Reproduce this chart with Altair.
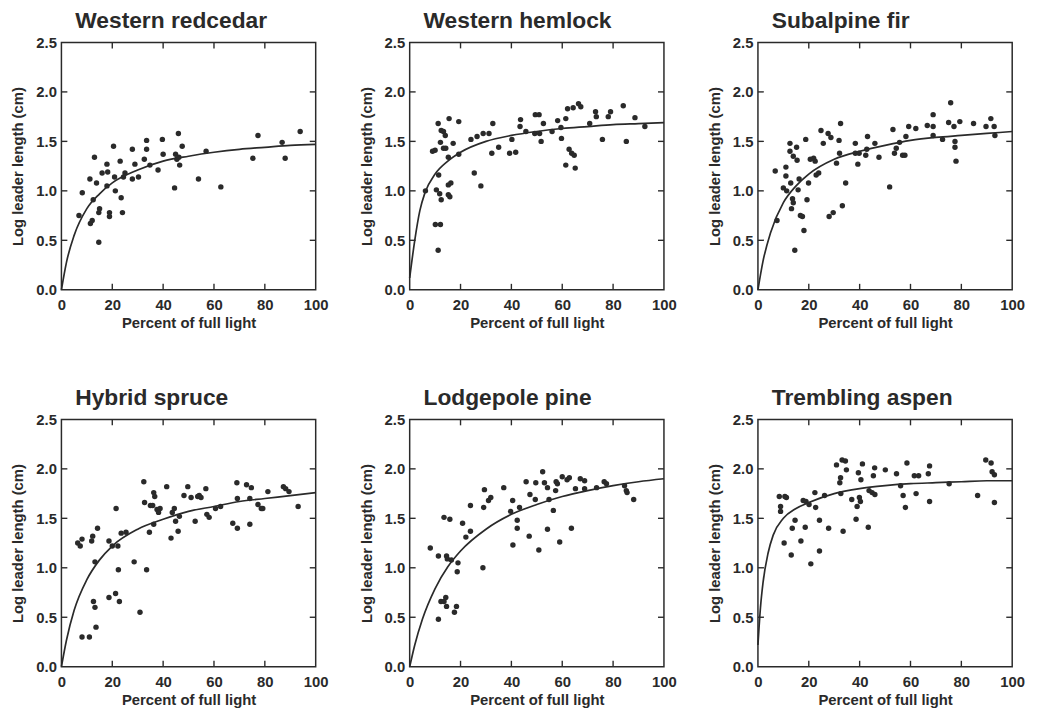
import altair as alt
import pandas as pd

FONT = "Liberation Sans"
INK = "#2a2a2a"
W, H = 257, 250

# ---- axis tick / label values ----
X_LABELS = [0, 20, 40, 60, 80, 100]
Y_LABELS = [0.0, 0.5, 1.0, 1.5, 2.0, 2.5]
X_TICKS = [20, 40, 60, 80]
Y_TICKS = [0.5, 1.0, 1.5, 2.0]

TITLES = ["Western redcedar", "Western hemlock", "Subalpine fir",
          "Hybrid spruce", "Lodgepole pine", "Trembling aspen"]

# ---- observed points (percent of full light, log leader length) ----
REDCEDAR = [(6.9, 0.75), (8.2, 0.98), (11.2, 1.12), (13.0, 1.34), (11.4, 0.67), (12.1, 0.70),
            (12.5, 0.91), (13.8, 1.08), (14.7, 0.48), (14.7, 0.78), (15.0, 0.82), (16.0, 1.18),
            (17.9, 1.27), (18.2, 1.19), (17.9, 1.05), (18.9, 0.78), (18.9, 0.74), (20.5, 1.45),
            (20.9, 1.14), (21.2, 1.00), (23.1, 1.30), (23.5, 0.93), (24.0, 0.78), (24.4, 1.14),
            (25.0, 1.18), (27.9, 1.42), (27.9, 1.12), (28.9, 1.27), (30.3, 1.14), (32.6, 1.32),
            (33.5, 1.51), (33.5, 1.42), (34.8, 1.26), (38.0, 1.21), (39.7, 1.52), (40.0, 1.37),
            (44.5, 1.03), (44.9, 1.37), (45.4, 1.32), (46.0, 1.58), (46.2, 1.34), (46.5, 1.26),
            (47.5, 1.45), (53.9, 1.12), (56.9, 1.40), (62.7, 1.04), (75.3, 1.33), (77.3, 1.56),
            (86.8, 1.49), (88.0, 1.33), (93.9, 1.60)]

HEMLOCK = [(6.2, 1.00), (9.0, 1.40), (10.0, 1.41), (11.2, 1.68), (10.5, 1.01), (10.1, 0.66),
           (12.1, 0.66), (11.2, 0.40), (11.4, 1.16), (11.8, 0.97), (12.4, 0.91), (12.1, 1.49),
           (12.4, 1.61), (13.3, 1.60), (13.3, 1.43), (14.0, 1.56), (14.2, 1.43), (15.2, 1.34),
           (15.2, 1.06), (15.2, 0.96), (15.8, 0.94), (16.2, 1.08), (15.5, 1.73), (17.1, 1.48),
           (19.3, 1.70), (19.3, 1.37), (24.1, 1.52), (25.4, 1.18), (26.5, 1.55), (28.0, 1.05),
           (28.9, 1.58), (31.2, 1.58), (32.3, 1.38), (32.7, 1.68), (35.0, 1.44), (39.3, 1.38),
           (40.2, 1.52), (41.7, 1.39), (43.4, 1.65), (43.6, 1.72), (45.7, 1.60), (49.2, 1.58),
           (49.4, 1.77), (50.9, 1.77), (51.1, 1.58), (51.7, 1.50), (52.6, 1.68), (56.0, 1.60),
           (58.2, 1.71), (59.5, 1.64), (59.7, 1.53), (61.4, 1.73), (61.4, 1.26), (62.1, 1.83),
           (62.7, 1.42), (63.7, 1.38), (64.3, 1.84), (64.7, 1.36), (65.1, 1.23), (66.4, 1.88),
           (67.3, 1.85), (70.8, 1.68), (73.1, 1.80), (73.4, 1.75), (75.8, 1.52), (78.1, 1.75),
           (79.0, 1.80), (84.0, 1.86), (85.2, 1.50), (88.6, 1.74), (92.5, 1.65)]

SUBALPINE = [(6.8, 1.20), (7.5, 0.70), (10.0, 1.03), (11.0, 1.24), (11.0, 1.15), (11.3, 1.00),
             (12.6, 1.48), (12.6, 1.40), (12.9, 1.08), (13.2, 0.82), (13.6, 0.92), (13.9, 0.88),
             (14.5, 0.40), (13.9, 1.35), (15.2, 1.44), (15.4, 1.31), (15.8, 1.01), (16.2, 1.12),
             (16.7, 0.75), (17.5, 0.74), (18.1, 0.60), (18.8, 1.52), (19.3, 0.91), (19.9, 1.08),
             (20.6, 1.32), (21.9, 1.33), (22.5, 1.30), (22.9, 1.16), (23.9, 1.18), (24.8, 1.61),
             (25.7, 1.48), (27.6, 1.58), (28.0, 0.74), (28.7, 1.54), (29.6, 0.78), (30.9, 1.28),
             (31.9, 1.51), (32.1, 1.38), (32.5, 1.68), (33.2, 0.85), (34.5, 1.08), (38.3, 1.48),
             (38.3, 1.38), (39.3, 1.27), (39.8, 1.38), (42.4, 1.36), (42.8, 1.42), (43.1, 1.55),
             (46.0, 1.48), (47.6, 1.34), (51.8, 1.04), (53.1, 1.62), (53.7, 1.38), (54.4, 1.43),
             (55.7, 1.49), (56.9, 1.36), (57.8, 1.36), (58.2, 1.55), (59.3, 1.65), (62.1, 1.63),
             (66.6, 1.66), (68.9, 1.77), (68.9, 1.65), (68.9, 1.56), (72.6, 1.52), (75.0, 1.69),
             (75.8, 1.89), (77.1, 1.65), (77.5, 1.50), (77.5, 1.44), (77.9, 1.30), (79.4, 1.70),
             (84.8, 1.68), (89.7, 1.65), (91.6, 1.73), (92.9, 1.65), (93.2, 1.56)]

SPRUCE = [(6.4, 1.25), (7.4, 1.22), (8.1, 1.29), (8.1, 0.30), (11.0, 0.30), (11.9, 1.27),
          (12.3, 1.32), (12.6, 0.66), (13.2, 0.60), (13.2, 1.06), (13.6, 0.40), (14.2, 1.40),
          (18.7, 1.27), (18.7, 0.70), (20.0, 1.22), (21.3, 0.74), (21.5, 1.60), (22.2, 1.22),
          (22.4, 0.98), (22.8, 0.66), (23.5, 1.35), (25.4, 1.36), (28.6, 1.06), (30.9, 0.55),
          (32.4, 1.87), (32.7, 1.66), (33.5, 0.98), (34.6, 1.36), (35.0, 1.63), (35.9, 1.63),
          (36.3, 1.76), (36.7, 1.72), (36.3, 1.44), (37.6, 1.59), (38.2, 1.56), (38.8, 1.60),
          (41.4, 1.82), (43.1, 1.30), (43.6, 1.56), (44.4, 1.60), (44.9, 1.47), (45.9, 1.37),
          (46.4, 1.52), (48.2, 1.73), (49.7, 1.82), (51.0, 1.71), (52.6, 1.47), (53.6, 1.72),
          (54.2, 1.73), (54.9, 1.71), (56.8, 1.80), (57.2, 1.54), (58.1, 1.51), (60.6, 1.60),
          (62.6, 1.62), (67.4, 1.45), (69.0, 1.86), (69.2, 1.70), (69.2, 1.40), (72.8, 1.84),
          (74.1, 1.70), (74.1, 1.44), (74.7, 1.81), (77.3, 1.64), (78.6, 1.60), (79.2, 1.60),
          (81.2, 1.77), (87.3, 1.82), (88.2, 1.80), (89.5, 1.77), (93.1, 1.62)]

LODGEPOLE = [(8.1, 1.20), (11.3, 1.12), (11.3, 0.48), (13.5, 1.51), (14.5, 1.12), (14.8, 1.09),
             (15.8, 1.49), (16.4, 1.08), (12.3, 0.66), (13.5, 0.66), (14.2, 0.70), (14.5, 0.61),
             (17.6, 0.55), (18.4, 0.61), (18.7, 0.96), (19.0, 1.05), (20.8, 1.45), (22.1, 1.31),
             (23.9, 1.63), (23.9, 1.37), (28.8, 1.00), (29.1, 1.61), (29.4, 1.79), (31.0, 1.68),
             (31.9, 1.71), (37.0, 1.81), (39.7, 1.57), (40.5, 1.68), (40.6, 1.23), (42.3, 1.40),
             (42.3, 1.48), (43.2, 1.61), (45.8, 1.87), (47.0, 1.32), (47.3, 1.74), (49.4, 1.69),
             (49.6, 1.86), (50.8, 1.18), (52.3, 1.97), (53.0, 1.86), (54.2, 1.81), (54.2, 1.39),
             (54.8, 1.69), (56.5, 1.58), (57.4, 1.78), (57.6, 1.87), (58.1, 1.85), (59.0, 1.26),
             (60.0, 1.92), (61.9, 1.89), (62.8, 1.91), (63.6, 1.40), (65.2, 1.80), (67.1, 1.90),
             (68.8, 1.88), (68.8, 1.80), (73.5, 1.81), (76.5, 1.87), (77.4, 1.85), (84.5, 1.83),
             (85.2, 1.78), (85.5, 1.76), (88.1, 1.69)]

ASPEN = [(8.4, 1.72), (8.9, 1.62), (8.9, 1.57), (10.6, 1.72), (11.2, 1.71), (10.3, 1.25),
         (13.1, 1.13), (13.5, 1.40), (14.6, 1.48), (16.9, 1.27), (17.8, 1.68), (18.6, 1.41),
         (18.9, 1.67), (20.1, 1.64), (20.8, 1.04), (22.4, 1.76), (22.7, 1.61), (24.2, 1.48),
         (24.2, 1.17), (26.2, 1.73), (27.8, 1.40), (30.9, 2.04), (32.2, 1.86), (32.5, 1.91),
         (32.6, 1.75), (33.5, 1.37), (33.1, 2.09), (34.4, 2.08), (34.8, 1.99), (36.9, 1.69),
         (38.6, 1.49), (39.0, 1.62), (39.5, 1.96), (39.9, 1.71), (40.3, 1.67), (40.5, 1.89),
         (41.1, 2.05), (43.4, 1.41), (43.7, 1.78), (44.9, 1.76), (45.4, 1.93), (45.9, 2.01),
         (46.0, 1.74), (50.1, 1.99), (54.5, 1.95), (56.1, 1.83), (57.1, 1.73), (58.0, 1.61),
         (58.6, 2.06), (61.5, 1.93), (62.2, 1.75), (63.2, 1.93), (67.0, 1.95), (67.5, 2.03),
         (67.5, 1.67), (75.2, 1.85), (86.4, 1.73), (89.6, 2.09), (91.7, 2.06), (92.1, 1.97),
         (93.0, 1.94), (93.0, 1.66)]

# ---- fitted curves ----
REDCEDAR_CURVE = [(0, 0.0), (2, 0.28), (5, 0.55), (10, 0.82), (15, 0.97), (20, 1.08), (30, 1.21),
                  (40, 1.30), (50, 1.35), (60, 1.39), (70, 1.42), (80, 1.44), (90, 1.46), (100, 1.47)]
HEMLOCK_CURVE = [(0, 0.12), (2, 0.50), (4, 0.80), (6, 0.98), (10, 1.17), (15, 1.30), (20, 1.39),
                 (30, 1.50), (40, 1.56), (50, 1.60), (60, 1.63), (70, 1.65), (80, 1.67), (90, 1.68),
                 (100, 1.69)]
SUBALPINE_CURVE = [(0, 0.0), (2, 0.29), (5, 0.58), (10, 0.88), (15, 1.05), (20, 1.17), (30, 1.32),
                   (40, 1.40), (50, 1.46), (60, 1.51), (70, 1.54), (80, 1.56), (90, 1.58), (100, 1.60)]
SPRUCE_CURVE = [(0, 0.0), (2, 0.27), (5, 0.57), (10, 0.88), (15, 1.08), (20, 1.22), (30, 1.39),
                (40, 1.49), (50, 1.57), (60, 1.62), (70, 1.67), (80, 1.70), (90, 1.73), (100, 1.76)]
LODGEPOLE_CURVE = [(0, 0.0), (2, 0.22), (5, 0.48), (10, 0.79), (15, 1.01), (20, 1.17), (30, 1.39),
                   (40, 1.54), (50, 1.64), (60, 1.72), (70, 1.78), (80, 1.83), (90, 1.87), (100, 1.90)]
ASPEN_CURVE = [(0, 0.22), (1, 0.60), (2, 0.85), (4, 1.15), (6, 1.33), (10, 1.50), (15, 1.60),
               (20, 1.66), (30, 1.75), (40, 1.80), (50, 1.83), (60, 1.85), (70, 1.86), (80, 1.87),
               (90, 1.88), (100, 1.88)]

POINTS = [REDCEDAR, HEMLOCK, SUBALPINE, SPRUCE, LODGEPOLE, ASPEN]
CURVES = [REDCEDAR_CURVE, HEMLOCK_CURVE, SUBALPINE_CURVE, SPRUCE_CURVE, LODGEPOLE_CURVE, ASPEN_CURVE]

TICK = 6


def panel(title, pts, curve):
    pdf = pd.DataFrame(pts, columns=["x", "y"])
    cdf = pd.DataFrame(curve, columns=["x", "y"])
    xt = pd.DataFrame({"x": X_TICKS})
    yt = pd.DataFrame({"y": Y_TICKS})
    xs = alt.Scale(domain=[0, 100], nice=False, zero=False)
    ys = alt.Scale(domain=[0, 2.5], nice=False, zero=False)
    xaxis = alt.Axis(values=X_LABELS, title="Percent of full light",
                     labelPadding=8, titlePadding=3)
    yaxis = alt.Axis(values=Y_LABELS, format=".1f", title="Log leader length (cm)",
                     labelPadding=5, titlePadding=10)
    X = alt.X("x:Q", scale=xs, axis=xaxis)
    Y = alt.Y("y:Q", scale=ys, axis=yaxis)

    points = alt.Chart(pdf).mark_circle(size=30, color=INK, opacity=1).encode(x=X, y=Y)
    line = alt.Chart(cdf).mark_line(color=INK, strokeWidth=1.7,
                                    interpolate="monotone").encode(x=X, y=Y)
    rule = dict(color=INK, strokeWidth=1.4)
    bottom = alt.Chart(xt).mark_rule(**rule).encode(
        x=X, y=alt.value(H), y2=alt.value(H - TICK))
    top = alt.Chart(xt).mark_rule(**rule).encode(
        x=X, y=alt.value(0), y2=alt.value(TICK))
    left = alt.Chart(yt).mark_rule(**rule).encode(
        y=Y, x=alt.value(0), x2=alt.value(TICK))
    right = alt.Chart(yt).mark_rule(**rule).encode(
        y=Y, x=alt.value(W), x2=alt.value(W - TICK))

    return alt.layer(points, line, bottom, top, left, right).properties(
        width=W, height=H,
        title=alt.TitleParams(title, anchor="start", frame="group", dx=14, offset=3,
                              fontSize=23, font=FONT, fontWeight="bold", color=INK),
    )


panels = [panel(t, p, c) for t, p, c in zip(TITLES, POINTS, CURVES)]

chart = alt.concat(*panels, columns=3, spacing={"row": 55, "column": 29}).properties(
    padding={"left": 2, "top": -3, "right": 5, "bottom": 5},
    background="white",
).configure_view(
    stroke=INK, strokeWidth=1.5,
).configure_axis(
    grid=False, ticks=False, domain=False,
    labelFont=FONT, labelFontSize=15, labelFontWeight="bold", labelColor=INK,
    titleFont=FONT, titleFontSize=15, titleFontWeight="bold", titleColor=INK,
    labelFlush=False, labelOverlap=False,
)

chart.save("out.html", embed_options={"renderer": "svg", "actions": False})
